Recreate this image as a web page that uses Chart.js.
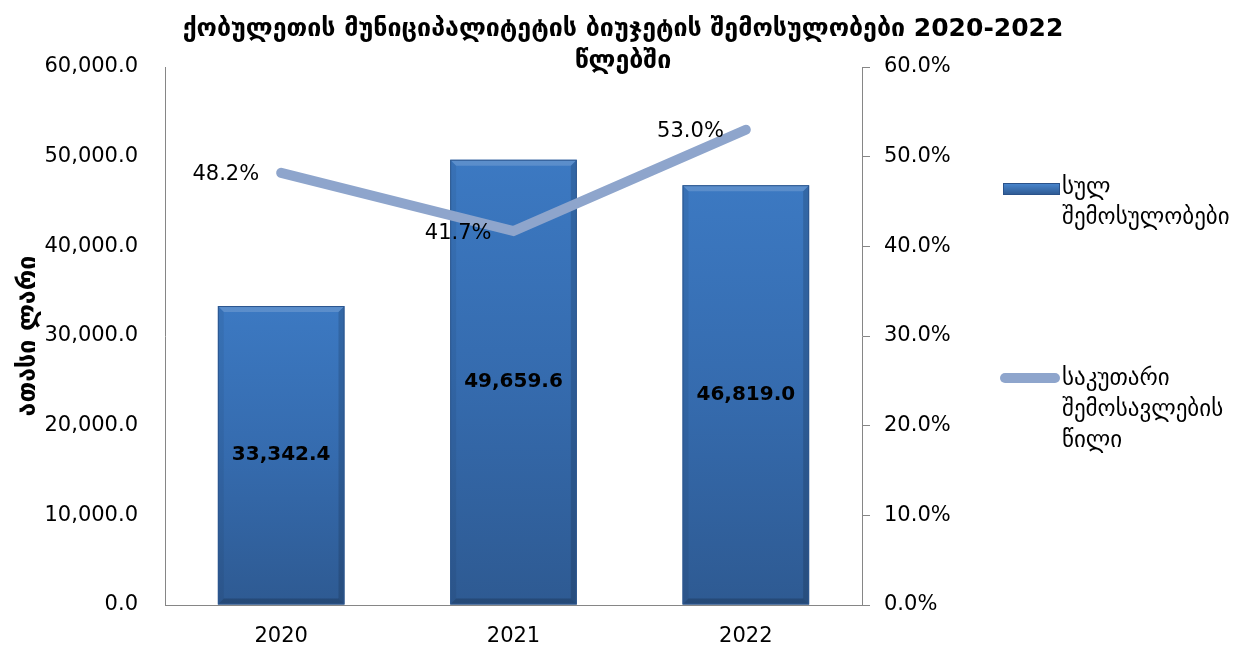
<!DOCTYPE html>
<html>
<head>
<meta charset="utf-8">
<script src="https://cdn.jsdelivr.net/npm/chart.js@4.4.0/dist/chart.umd.min.js"></script>
<style>
  body { margin: 0; background: #fff; }
  #wrap { width: 1238px; height: 652px; }
</style>
</head>
<body>
<div id="wrap"><canvas id="chart" width="1238" height="652"></canvas></div>
<script>
// data
const years = ['2020', '2021', '2022'];
const totalRevenue = [33342.4, 49659.6, 46819.0];
const ownShare = [0.482, 0.417, 0.530];
const seriesNames = [['სულ', 'შემოსულობები'], ['საკუთარი', 'შემოსავლების', 'წილი']];
const titleLines = ['ქობულეთის მუნიციპალიტეტის ბიუჯეტის შემოსულობები 2020-2022', 'წლებში'];
const yTitle = 'ათასი ლარი';

const FONT = "'DejaVu Sans', sans-serif";
const AXIS = '#868686';
const LINE_COLOR = '#8EA5CC';

const fmtThousands = v => v.toLocaleString('en-US', { minimumFractionDigits: 1, maximumFractionDigits: 1 });
const fmtPct = v => (v * 100).toFixed(1) + '%';

// bars get a vertical gradient each
function barFill(ctx) {
  const chart = ctx.chart;
  const { chartArea } = chart;
  if (!chartArea || ctx.dataIndex === undefined) return '#3A74BA';
  const ys = chart.scales.y;
  const top = ys.getPixelForValue(ctx.raw);
  const bottom = ys.getPixelForValue(0);
  const g = chart.ctx.createLinearGradient(0, top, 0, bottom);
  g.addColorStop(0, '#3C79C2');
  g.addColorStop(0.5, '#356BAE');
  g.addColorStop(1, '#2E5A92');
  return g;
}

// simple bevel on the bars, drawn right after the bar dataset
const bevel = {
  id: 'bevel',
  afterDatasetDraw(chart, args) {
    if (args.index !== 0) return;
    const c = chart.ctx;
    const b = 6;
    args.meta.data.forEach(bar => {
      const l = bar.x - bar.width / 2, r = bar.x + bar.width / 2;
      const t = bar.y, btm = bar.base;
      const poly = (pts, col) => {
        c.beginPath();
        c.moveTo(pts[0][0], pts[0][1]);
        pts.slice(1).forEach(p => c.lineTo(p[0], p[1]));
        c.closePath();
        c.fillStyle = col;
        c.fill();
      };
      c.save();
      poly([[l, t], [r, t], [r - b, t + b], [l + b, t + b]], 'rgba(255,255,255,0.16)');
      poly([[l, t], [l + b, t + b], [l + b, btm - b], [l, btm]], 'rgba(0,0,0,0.06)');
      poly([[r, t], [r - b, t + b], [r - b, btm - b], [r, btm]], 'rgba(0,0,0,0.14)');
      poly([[l, btm], [l + b, btm - b], [r - b, btm - b], [r, btm]], 'rgba(0,0,0,0.18)');
      c.strokeStyle = '#2C568E';
      c.lineWidth = 1;
      c.strokeRect(l + 0.5, t + 0.5, r - l - 1, btm - t - 1);
      c.restore();
    });
  }
};

// value labels
const valueLabels = {
  id: 'valueLabels',
  afterDatasetsDraw(chart) {
    const c = chart.ctx;
    c.save();
    c.fillStyle = '#000';
    c.textBaseline = 'middle';
    const bars = chart.getDatasetMeta(0).data;
    c.font = 'bold 20px ' + FONT;
    c.textAlign = 'center';
    bars.forEach((bar, i) => {
      c.fillText(fmtThousands(totalRevenue[i]), bar.x, (bar.y + bar.base) / 2);
    });
    const pts = chart.getDatasetMeta(1).data;
    c.font = '21px ' + FONT;
    c.textAlign = 'right';
    pts.forEach((p, i) => {
      c.fillText(fmtPct(ownShare[i]), p.x - 22, p.y + 2);
    });
    c.restore();
  }
};

// title over the whole canvas, the plot starts under its first line
const topTitle = {
  id: 'topTitle',
  afterDraw(chart) {
    const c = chart.ctx;
    c.save();
    c.font = 'bold 25px ' + FONT;
    c.fillStyle = '#000';
    c.textAlign = 'center';
    c.textBaseline = 'middle';
    titleLines.forEach((t, i) => c.fillText(t, 623, 29 + i * 32));
    c.restore();
  }
};

// legend on the right, with wrapped labels
const sideLegend = {
  id: 'sideLegend',
  afterDraw(chart) {
    const c = chart.ctx;
    c.save();
    c.font = '23px ' + FONT;
    c.textBaseline = 'middle';
    c.textAlign = 'left';
    // bar swatch
    const g = c.createLinearGradient(0, 183, 0, 195);
    g.addColorStop(0, '#4A88D0');
    g.addColorStop(1, '#2D5890');
    c.fillStyle = g;
    c.fillRect(1003, 183, 57, 12);
    c.strokeStyle = '#2A528A';
    c.lineWidth = 1;
    c.strokeRect(1003.5, 183.5, 56, 11);
    c.fillStyle = '#000';
    seriesNames[0].forEach((t, i) => c.fillText(t, 1062, 188 + i * 30));
    // line swatch
    c.strokeStyle = LINE_COLOR;
    c.lineWidth = 10;
    c.lineCap = 'round';
    c.beginPath();
    c.moveTo(1005, 378);
    c.lineTo(1055, 378);
    c.stroke();
    seriesNames[1].forEach((t, i) => c.fillText(t, 1062, 379 + i * 31));
    c.restore();
  }
};

new Chart(document.getElementById('chart'), {
  data: {
    labels: years,
    datasets: [
      {
        type: 'bar',
        label: seriesNames[0].join(' '),
        data: totalRevenue,
        backgroundColor: barFill,
        borderWidth: 0,
        barPercentage: 0.545,
        categoryPercentage: 1,
        yAxisID: 'y',
        order: 2
      },
      {
        type: 'line',
        label: seriesNames[1].join(' '),
        data: ownShare,
        borderColor: LINE_COLOR,
        borderWidth: 10,
        borderCapStyle: 'round',
        pointRadius: 0,
        tension: 0,
        fill: false,
        yAxisID: 'y1',
        order: 1
      }
    ]
  },
  options: {
    responsive: false,
    animation: false,
    layout: { padding: { left: 10, right: 276, top: 67, bottom: 0 } },
    plugins: {
      legend: { display: false },
      tooltip: { enabled: false },
      title: { display: false }
    },
    scales: {
      x: {
        offset: true,
        grid: { display: true, drawOnChartArea: false, drawTicks: false, color: AXIS },
        border: { display: true, color: AXIS },
        ticks: { color: '#000', font: { family: FONT, size: 21 }, padding: 19 },
        afterFit: s => { s.height = 47; }
      },
      y: {
        position: 'left',
        min: 0,
        max: 60000,
        grid: { display: true, drawOnChartArea: false, drawTicks: false, color: AXIS },
        border: { display: true, color: AXIS },
        ticks: { stepSize: 10000, color: '#000', font: { family: FONT, size: 21 }, padding: 27, callback: v => fmtThousands(v) },
        title: { display: true, text: yTitle, color: '#000', font: { family: FONT, size: 25, weight: 'bold' }, padding: 3 },
        afterFit: s => { s.width = 155; }
      },
      y1: {
        position: 'right',
        min: 0,
        max: 0.6,
        grid: { display: true, drawOnChartArea: false, drawTicks: true, tickLength: 8, color: AXIS },
        border: { display: true, color: AXIS },
        ticks: { stepSize: 0.1, color: '#000', font: { family: FONT, size: 21 }, padding: 14, callback: v => fmtPct(v) },
        afterFit: s => { s.width = 100; }
      }
    }
  },
  plugins: [bevel, valueLabels, topTitle, sideLegend]
});
</script>
</body>
</html>
